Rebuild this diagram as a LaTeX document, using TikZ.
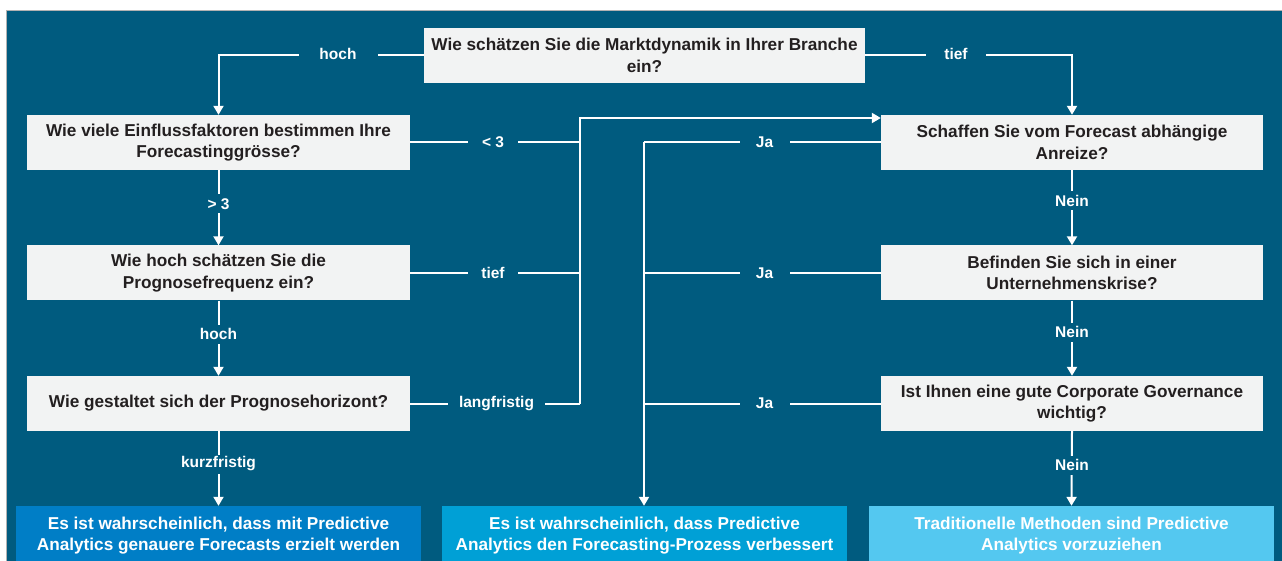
\documentclass[tikz,border=0pt]{standalone}
\usepackage{fontspec}
\setmainfont{Liberation Sans}
\usetikzlibrary{arrows.meta}
\definecolor{bg}{RGB}{0,91,127}
\definecolor{boxg}{RGB}{242,243,243}
\definecolor{txt}{RGB}{35,31,32}
\definecolor{resA}{RGB}{0,126,198}
\definecolor{resB}{RGB}{0,160,214}
\definecolor{resC}{RGB}{84,200,240}
\begin{document}
\begin{tikzpicture}[x=1pt,y=-1pt,
 q/.style={fill=boxg, text=txt, font=\bfseries\fontsize{17.2}{21.5}\selectfont, align=center, minimum height=55, inner sep=0},
 res/.style={text=white, font=\bfseries\fontsize{17.2}{21.5}\selectfont, align=center, minimum height=55, minimum width=405, inner sep=0},
 lab/.style={fill=bg, text=white, font=\bfseries\fontsize{15.5}{18}\selectfont, minimum width=50, minimum height=19, inner sep=0},
 ln/.style={white, line width=2},
 arr/.style={ln, -{Triangle[width=10,length=9]}}]
\useasboundingbox (0,0) rectangle (1282,561);
\fill[white] (0,0) rectangle (1282,561);
\filldraw[fill=bg, draw=black!30, line width=1] (6,11) rectangle (1283,562);
% questions
\node[q, minimum width=441] (top) at (644.5,55.5) {Wie schätzen Sie die Marktdynamik in Ihrer Branche\\ein?};
\node[q, minimum width=383] (l1) at (218.5,142.5) {Wie viele Einflussfaktoren bestimmen Ihre\\Forecastinggrösse?};
\node[q, minimum width=383] (l2) at (218.5,273) {Wie hoch schätzen Sie die\\Prognosefrequenz ein?};
\node[q, minimum width=383] (l3) at (218.5,403.5) {Wie gestaltet sich der Prognosehorizont?};
\node[q, minimum width=382] (r1) at (1072,142.5) {Schaffen Sie vom Forecast abhängige\\Anreize?};
\node[q, minimum width=382] (r2) at (1072,273) {Befinden Sie sich in einer\\Unternehmenskrise?};
\node[q, minimum width=382] (r3) at (1072,403.5) {Ist Ihnen eine gute Corporate Governance\\wichtig?};
% results
\node[res, fill=resA, minimum height=59] (b1) at (218.5,535.5) {Es ist wahrscheinlich, dass mit Predictive\\Analytics genauere Forecasts erzielt werden};
\node[res, fill=resB, minimum height=59] (b2) at (644.5,535.5) {Es ist wahrscheinlich, dass Predictive\\Analytics den Forecasting-Prozess verbessert};
\node[res, fill=resC, minimum height=59] (b3) at (1071.5,535.5) {Traditionelle Methoden sind Predictive\\Analytics vorzuziehen};
% junction coordinates
\coordinate (jl1) at (580,142.5);
\coordinate (jl2) at (580,273);
\coordinate (jl3) at (580,403.5);
\coordinate (jtop) at (580,118);
\coordinate (jr1) at (644,142.5);
\coordinate (jr2) at (644,273);
\coordinate (jr3) at (644,403.5);
% top connectors
\draw[arr] (top.west) -| (l1.north);
\draw[arr] (top.east) -| (r1.north);
\node[lab, minimum width=79] (lhoch) at (338,54) {hoch};
\node[lab, minimum width=60] (ltief) at (956,54) {tief};
% left column
\draw[arr] (l1.south) -- (l2.north);
\draw[arr] (l2.south) -- (l3.north);
\draw[arr] (l3.south) -- (b1.north);
\node[lab] (lg3) at (218.5,204) {> 3};
\node[lab] (lhoch2) at (218.5,334) {hoch};
\node[lab] (lkurz) at (218.5,464) {kurzfristig};
% left to middle junction
\draw[ln] (l1.east) -- (jl1);
\draw[ln] (l2.east) -- (jl2);
\draw[ln] (l3.east) -- (jl3);
\draw[arr] (jl3) -- (jtop) -- (jtop -| r1.west);
\node[lab] (llt3) at (493,142.5) {< 3};
\node[lab] (ltief2) at (493,273) {tief};
\node[lab, minimum width=97] (llang) at (496.5,403.5) {langfristig};
% right column
\draw[arr] (r1.south) -- (r2.north);
\draw[arr] (r2.south) -- (r3.north);
\draw[arr] (r3.south) -- (b3.north);
\node[lab] (ln1) at (1072,201) {Nein};
\node[lab] (ln2) at (1072,332) {Nein};
\node[lab] (ln3) at (1072,465) {Nein};
% right to middle
\draw[ln] (r1.west) -- (jr1);
\draw[ln] (r2.west) -- (jr2);
\draw[ln] (r3.west) -- (jr3);
\draw[arr] (jr1) -- (jr1 |- b2.north);
\node[lab] (lja1) at (764.5,142.5) {Ja};
\node[lab] (lja2) at (764.5,273) {Ja};
\node[lab] (lja3) at (764.5,403.5) {Ja};
\end{tikzpicture}
\end{document}
